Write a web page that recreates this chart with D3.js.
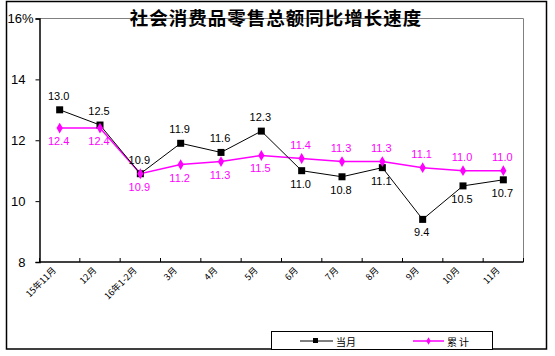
<!DOCTYPE html>
<html><head><meta charset="utf-8">
<script src="https://cdn.jsdelivr.net/npm/d3@7/dist/d3.min.js"></script>
<style>body{margin:0;background:#fff}svg{display:block}</style>
</head><body>
<script>
const categories = ["15年11月","12月","16年1-2月","3月","4月","5月","6月","7月","8月","9月","10月","11月"];
const monthly = [13.0,12.5,10.9,11.9,11.6,12.3,11.0,10.8,11.1,9.4,10.5,10.7];
const cumulative = [12.4,12.4,10.9,11.2,11.3,11.5,11.4,11.3,11.3,11.1,11.0,11.0];
const monthlyLabelAbove = [1,1,1,1,1,1,0,0,0,0,0,0];
const cumLabelAbove = [0,0,0,0,0,0,1,1,1,1,1,1];
const yTicks = [8,10,12,14,16];
const seriesNames = ["当月","累计"];
const title = "社会消费品零售总额同比增长速度";

const W=555,H=356;
const svg=d3.select("body").append("svg").attr("width",W).attr("height",H);
svg.append("rect").attr("x",6.5).attr("y",1.5).attr("width",540).attr("height",347.5)
  .attr("fill","#fff").attr("stroke","#000").attr("stroke-width",1.5);

const L=39.5,R=523.5,T=18.5,B=262;
const x=d3.scaleBand().domain(categories).range([L,R]);
const y=d3.scaleLinear().domain([8,16]).range([B,T]);

// plot frame: top & right gray
svg.append("path").attr("d",`M${L},${T}H${R}V${B}`).attr("fill","none").attr("stroke","#808080").attr("stroke-width",1);

// y axis
const ya=svg.append("g").attr("transform",`translate(${L},0)`)
  .call(d3.axisLeft(y).tickValues(yTicks).tickSize(4).tickFormat(d=>d===16?"16%":d));
ya.select(".domain").attr("stroke","#000").attr("stroke-width",1.5);
ya.selectAll("text").attr("font-family","Liberation Sans, Arial").attr("font-size",13).attr("fill","#000")
  .attr("x",d=>d===16?-6:-14);

// x axis with ticks at boundaries
const xa=svg.append("g").attr("transform",`translate(0,${B})`);
xa.append("line").attr("x1",L).attr("x2",R).attr("stroke","#000").attr("stroke-width",1.5);
const bounds=categories.map(c=>x(c)).concat([R]);
xa.selectAll("line.t").data(bounds).join("line").attr("class","t")
  .attr("x1",d=>d).attr("x2",d=>d).attr("y1",0).attr("y2",-4).attr("stroke","#000");
xa.selectAll("text").data(categories).join("text")
  .attr("transform",d=>`translate(${x(d)+x.bandwidth()/2-3},${9}) rotate(-45)`)
  .attr("text-anchor","end").attr("font-family","Noto Sans CJK SC, Liberation Sans").attr("font-size",9)
  .attr("fill","#000").text(d=>d);

// title
svg.append("text").attr("x",276).attr("y",24.5).attr("text-anchor","middle")
  .attr("font-family","Noto Sans CJK SC").attr("font-weight","bold").attr("font-size",18.5)
  .attr("letter-spacing",1).attr("fill","#000").text(title);

const cx=(d,i)=>x(categories[i])+x.bandwidth()/2;
const line=d3.line().x((d,i)=>cx(d,i)).y(d=>y(d));

svg.append("path").datum(cumulative).attr("d",line).attr("fill","none").attr("stroke","#FF00FF").attr("stroke-width",1.5);
svg.append("path").datum(monthly).attr("d",line).attr("fill","none").attr("stroke","#000").attr("stroke-width",1);

svg.selectAll("rect.m").data(monthly).join("rect").attr("class","m")
  .attr("x",(d,i)=>cx(d,i)-3.5).attr("y",d=>y(d)-3.5).attr("width",7).attr("height",7).attr("fill","#000");
svg.selectAll("path.c").data(cumulative).join("path").attr("class","c")
  .attr("d",d3.symbol(d3.symbolDiamond,34)())
  .attr("transform",(d,i)=>`translate(${cx(d,i)},${y(d)})`)
  .attr("fill","#FF00FF");

svg.selectAll("text.ml").data(monthly).join("text").attr("class","ml")
  .attr("x",(d,i)=>cx(d,i)-1).attr("y",(d,i)=>monthlyLabelAbove[i]?y(d)-10:y(d)+17)
  .attr("text-anchor","middle").attr("font-family","Liberation Sans, Arial").attr("font-size",11)
  .attr("fill","#000").text(d=>d.toFixed(1));
svg.selectAll("text.cl").data(cumulative).join("text").attr("class","cl")
  .attr("x",(d,i)=>cx(d,i)-1).attr("y",(d,i)=>cumLabelAbove[i]?y(d)-10:y(d)+17)
  .attr("text-anchor","middle").attr("font-family","Liberation Sans, Arial").attr("font-size",11)
  .attr("fill","#FF00FF").text(d=>d.toFixed(1));

// legend
const lg=svg.append("g");
lg.append("rect").attr("x",271.5).attr("y",331.5).attr("width",221).attr("height",18).attr("fill","#fff").attr("stroke","#000");
lg.append("line").attr("x1",300).attr("x2",333).attr("y1",341).attr("y2",341).attr("stroke","#000");
lg.append("rect").attr("x",313).attr("y",338).attr("width",5).attr("height",5).attr("fill","#000");
lg.append("text").attr("x",336).attr("y",345.5).attr("font-family","Noto Sans CJK SC").attr("font-size",10).text(seriesNames[0]);
lg.append("line").attr("x1",413).attr("x2",444).attr("y1",341).attr("y2",341).attr("stroke","#FF00FF").attr("stroke-width",1.5);
lg.append("path").attr("d",d3.symbol(d3.symbolDiamond,16)()).attr("transform","translate(428.5,341)").attr("fill","#FF00FF");
lg.append("text").attr("x",447).attr("y",345.5).attr("font-family","Noto Sans CJK SC").attr("font-size",10).attr("letter-spacing",2).text(seriesNames[1]);
</script>
</body></html>
